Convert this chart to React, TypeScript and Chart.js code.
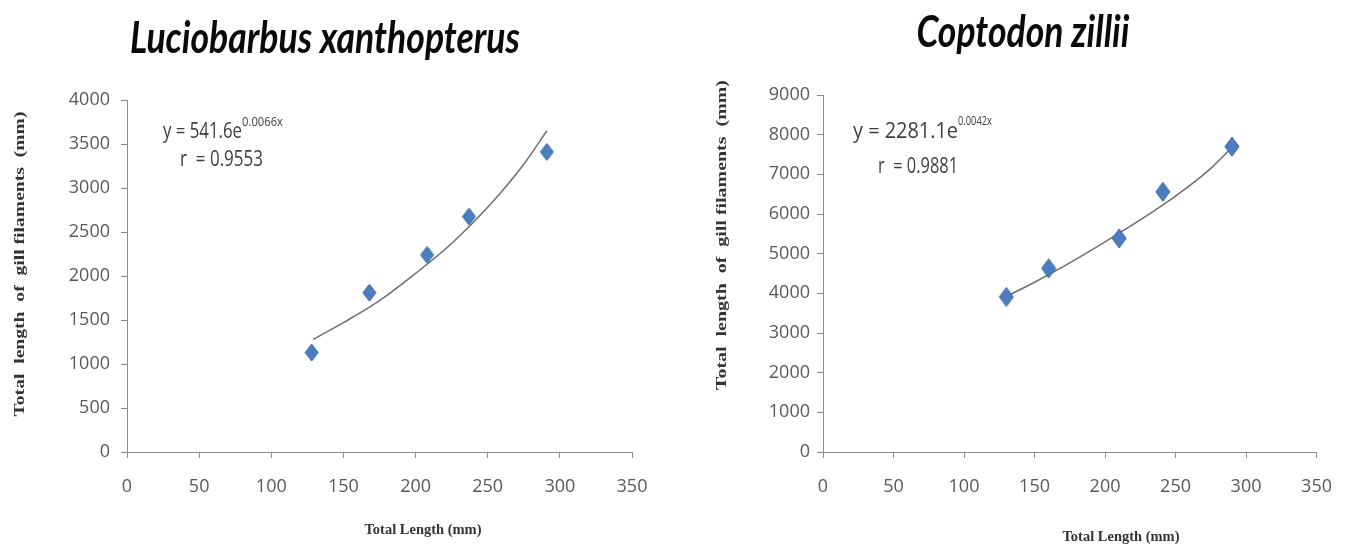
import React, { useEffect, useRef } from "react";
import { Chart, registerables } from "chart.js";

Chart.register(...registerables);

// ---------- data ----------
const xAxisMin = 0;
const xAxisMax = 350;
const xAxisStep = 50;

// Luciobarbus xanthopterus
const leftTitle = "Luciobarbus xanthopterus";
const leftLengths = [128, 168, 208, 237, 291];
const leftFilaments = [1130, 1810, 2240, 2675, 3410];
const leftTrendX = [129, 150, 175, 200, 225, 250, 275, 291];
const leftTrendY = [1280, 1470, 1720, 2030, 2370, 2780, 3270, 3650];
const leftYMax = 4000;
const leftYStep = 500;
const leftEquation = "y = 541.6e";
const leftExponent = "0.0066x";
const leftR = "r  = 0.9553";

// Coptodon zillii
const rightTitle = "Coptodon zillii";
const rightLengths = [130, 160, 210, 241, 290];
const rightFilaments = [3910, 4630, 5385, 6560, 7700];
const rightTrendX = [130, 150, 175, 200, 225, 250, 275, 290];
const rightTrendY = [3920, 4280, 4770, 5300, 5850, 6450, 7150, 7680];
const rightYMax = 9000;
const rightYStep = 1000;
const rightEquation = "y = 2281.1e";
const rightExponent = "0.0042x";
const rightR = "r  = 0.9881";

const yAxisTitle = "Total  length  of  gill filaments  (mm)";
const xAxisTitle = "Total Length (mm)";

// ---------- helpers ----------
function makeDiamond(w: number, h: number, fill: string, stroke: string) {
  const c = document.createElement("canvas");
  c.width = w + 2;
  c.height = h + 2;
  const g = c.getContext("2d")!;
  g.beginPath();
  g.moveTo(c.width / 2, 1);
  g.lineTo(c.width - 1, c.height / 2);
  g.lineTo(c.width / 2, c.height - 1);
  g.lineTo(1, c.height / 2);
  g.closePath();
  g.fillStyle = fill;
  g.fill();
  g.lineWidth = 1;
  g.strokeStyle = stroke;
  g.stroke();
  return c;
}

function fitText(
  ctx: CanvasRenderingContext2D,
  text: string,
  x: number,
  y: number,
  width: number,
  font: string,
  align: CanvasTextAlign,
  baseline: CanvasTextBaseline,
  color: string,
  rotate = 0
) {
  ctx.save();
  ctx.font = font;
  const w = ctx.measureText(text).width;
  ctx.translate(x, y);
  if (rotate) ctx.rotate(rotate);
  ctx.scale(width / w, 1);
  ctx.textAlign = align;
  ctx.textBaseline = baseline;
  ctx.fillStyle = color;
  ctx.fillText(text, 0, 0);
  ctx.restore();
}

type TextSpec = {
  title: string;
  titleX: number;
  titleY: number;
  titleW: number;
  yTitleX: number;
  yTitleY: number;
  yTitleL: number;
  xTitleX: number;
  xTitleY: number;
  xTitleW: number;
  eq: string;
  eqX: number;
  eqY: number;
  eqW: number;
  exp: string;
  expY: number;
  expW: number;
  r: string;
  rX: number;
  rY: number;
  rW: number;
};

function textPlugin(spec: TextSpec) {
  return {
    id: "texts",
    afterDraw(chart: any) {
      const ctx = chart.ctx as CanvasRenderingContext2D;
      fitText(ctx, spec.title, spec.titleX, spec.titleY, spec.titleW,
        "italic bold 43px Lato, 'Open Sans', sans-serif", "center", "alphabetic", "#0a0a0a");
      fitText(ctx, yAxisTitle, spec.yTitleX, spec.yTitleY, spec.yTitleL,
        "bold 14px 'Liberation Serif', 'DejaVu Serif', serif", "center", "middle", "#333", -Math.PI / 2);
      fitText(ctx, xAxisTitle, spec.xTitleX, spec.xTitleY, spec.xTitleW,
        "bold 15px 'Liberation Serif', 'DejaVu Serif', serif", "center", "middle", "#333");
      fitText(ctx, spec.eq, spec.eqX, spec.eqY, spec.eqW,
        "21px 'Open Sans', sans-serif", "left", "middle", "#404040");
      fitText(ctx, spec.exp, spec.eqX + spec.eqW, spec.expY, spec.expW,
        "12px 'Open Sans', sans-serif", "left", "middle", "#404040");
      fitText(ctx, spec.r, spec.rX, spec.rY, spec.rW,
        "21px 'Open Sans', sans-serif", "left", "middle", "#404040");
    },
  };
}

const tickFont = { family: "'Open Sans', sans-serif", size: 18 };
const tickColor = "#595959";
const axisColor = "#8c8c8c";
const plainTick = (v: any) => String(v);

function buildConfig(opts: {
  lengths: number[];
  filaments: number[];
  trendX: number[];
  trendY: number[];
  yMax: number;
  yStep: number;
  padRight: number;
  padTop: number;
  yWidth: number;
  yPad: number;
  diamond: HTMLCanvasElement;
  spec: TextSpec;
}) {
  return {
    type: "scatter" as const,
    data: {
      datasets: [
        {
          label: "observed",
          data: opts.lengths.map((x, i) => ({ x, y: opts.filaments[i] })),
          pointStyle: opts.diamond,
          pointRadius: 8,
          showLine: false,
        },
        {
          label: "trend",
          data: opts.trendX.map((x, i) => ({ x, y: opts.trendY[i] })),
          showLine: true,
          pointRadius: 0,
          borderColor: "#6f6f6f",
          borderWidth: 1.5,
          cubicInterpolationMode: "monotone" as const,
          fill: false,
        },
      ],
    },
    options: {
      animation: false as const,
      responsive: false,
      devicePixelRatio: 1,
      layout: { padding: { left: 0, right: opts.padRight, top: opts.padTop, bottom: 0 } },
      plugins: {
        legend: { display: false },
        title: { display: false },
        tooltip: { enabled: false },
      },
      scales: {
        x: {
          type: "linear" as const,
          min: xAxisMin,
          max: xAxisMax,
          ticks: { stepSize: xAxisStep, font: tickFont, color: tickColor, padding: 18, maxRotation: 0, callback: plainTick },
          grid: { display: true, drawOnChartArea: false, drawTicks: true, tickLength: 6, color: axisColor },
          border: { display: true, color: axisColor, width: 1 },
          afterFit: (s: any) => {
            s.height = 93;
          },
        },
        y: {
          type: "linear" as const,
          min: 0,
          max: opts.yMax,
          ticks: { stepSize: opts.yStep, font: tickFont, color: tickColor, padding: opts.yPad, callback: plainTick },
          grid: { display: true, drawOnChartArea: false, drawTicks: true, tickLength: 6, color: axisColor },
          border: { display: true, color: axisColor, width: 1 },
          afterFit: (s: any) => {
            s.width = opts.yWidth;
          },
        },
      },
    },
    plugins: [textPlugin(opts.spec)],
  };
}

export default function App() {
  const leftRef = useRef<HTMLCanvasElement>(null);
  const rightRef = useRef<HTMLCanvasElement>(null);

  useEffect(() => {
    const fill = "#4a7ebf";
    const stroke = "#3866a0";
    const leftChart = new Chart(
      leftRef.current!,
      buildConfig({
        lengths: leftLengths,
        filaments: leftFilaments,
        trendX: leftTrendX,
        trendY: leftTrendY,
        yMax: leftYMax,
        yStep: leftYStep,
        padRight: 43,
        padTop: 100,
        yWidth: 127,
        yPad: 11,
        diamond: makeDiamond(13, 17, fill, stroke),
        spec: {
          title: leftTitle, titleX: 325, titleY: 53, titleW: 390,
          yTitleX: 20, yTitleY: 264, yTitleL: 305,
          xTitleX: 423, xTitleY: 530, xTitleW: 117,
          eq: leftEquation, eqX: 163, eqY: 132, eqW: 79,
          exp: leftExponent, expY: 123, expW: 41,
          r: leftR, rX: 180, rY: 160, rW: 83,
        },
      }) as any
    );
    const rightChart = new Chart(
      rightRef.current!,
      buildConfig({
        lengths: rightLengths,
        filaments: rightFilaments,
        trendX: rightTrendX,
        trendY: rightTrendY,
        yMax: rightYMax,
        yStep: rightYStep,
        padRight: 15,
        padTop: 95,
        yWidth: 148,
        yPad: 7,
        diamond: makeDiamond(14, 19, fill, stroke),
        spec: {
          title: rightTitle, titleX: 348, titleY: 47, titleW: 213,
          yTitleX: 47, yTitleY: 235, yTitleL: 310,
          xTitleX: 446, xTitleY: 537, xTitleW: 117,
          eq: rightEquation, eqX: 178, eqY: 132, eqW: 105,
          exp: rightExponent, expY: 122, expW: 34,
          r: rightR, rX: 203, rY: 167, rW: 80,
        },
      }) as any
    );
    return () => {
      leftChart.destroy();
      rightChart.destroy();
    };
  }, []);

  return (
    <div
      style={{
        position: "fixed",
        left: 0,
        top: 0,
        width: 1350,
        height: 545,
        background: "#ffffff",
        overflow: "hidden",
      }}
    >
      <canvas
        ref={leftRef}
        width={675}
        height={545}
        style={{ position: "absolute", left: 0, top: 0, width: 675, height: 545 }}
      />
      <canvas
        ref={rightRef}
        width={675}
        height={545}
        style={{ position: "absolute", left: 675, top: 0, width: 675, height: 545 }}
      />
    </div>
  );
}
